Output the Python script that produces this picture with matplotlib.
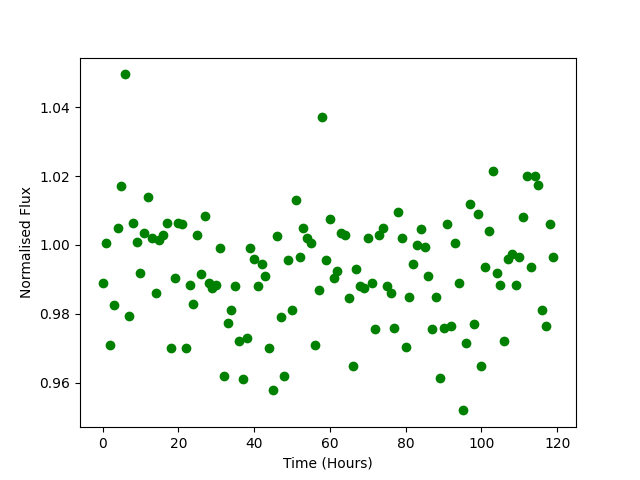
import numpy as np
import matplotlib
matplotlib.use("Agg")
import matplotlib.pyplot as plt

# hourly samples
time_hours = np.arange(120)

flux = [
    0.989, 1.0005, 0.971, 0.9825, 1.005, 1.017, 1.0495, 0.9795, 1.0065, 1.001,
    0.992, 1.0035, 1.014, 1.002, 0.986, 1.0015, 1.003, 1.0065, 0.970, 0.9905,
    1.0065, 1.006, 0.970, 0.9885, 0.983, 1.003, 0.9915, 1.0085, 0.989, 0.9875,
    0.9885, 0.999, 0.962, 0.9775, 0.981, 0.988, 0.972, 0.961, 0.973, 0.999,
    0.996, 0.988, 0.9945, 0.991, 0.970, 0.958, 1.0025, 0.979, 0.962, 0.9955,
    0.981, 1.013, 0.9965, 1.005, 1.002, 1.0005, 0.971, 0.987, 1.037, 0.9955,
    1.0075, 0.9905, 0.9925, 1.0035, 1.003, 0.9845, 0.965, 0.993, 0.988, 0.9875,
    1.002, 0.989, 0.9755, 1.003, 1.005, 0.988, 0.986, 0.976, 1.0095, 1.002,
    0.9705, 0.985, 0.9945, 1.000, 1.0045, 0.9995, 0.991, 0.9755, 0.985, 0.9615,
    0.976, 1.006, 0.9765, 1.0005, 0.989, 0.952, 0.9715, 1.012, 0.977, 1.009,
    0.965, 0.9935, 1.004, 1.0215, 0.992, 0.9885, 0.972, 0.996, 0.9975, 0.9885,
    0.9965, 1.008, 1.020, 0.9935, 1.020, 1.0175, 0.981, 0.9765, 1.006, 0.9965,
]

fig, ax = plt.subplots(figsize=(6.4, 4.8), dpi=100)
ax.plot(time_hours, flux, 'go')
ax.set_xlabel("Time (Hours)")
ax.set_ylabel("Normalised Flux")

fig.savefig("out.png")
